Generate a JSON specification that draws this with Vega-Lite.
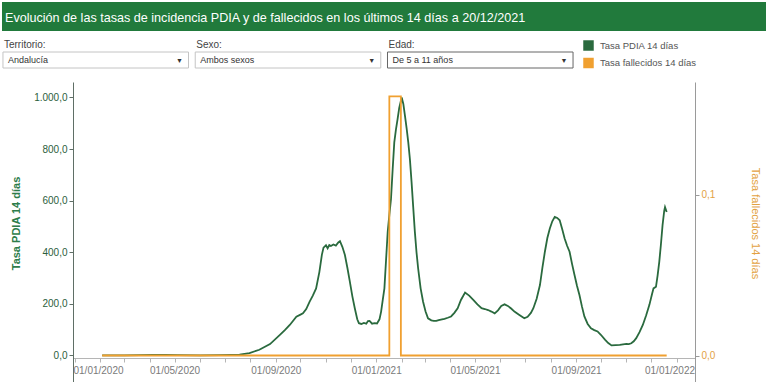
{
  "$schema": "https://vega.github.io/schema/vega-lite/v6.json",
  "padding": {"left": 2, "top": 2, "right": 2, "bottom": 0},
  "background": "white",
  "spacing": 0,
  "config": {
    "view": {"stroke": null},
    "font": "Liberation Sans",
    "locale": {"number": {"decimal": ",", "thousands": ".", "grouping": [3], "currency": ["", " €"]}}
  },
  "datasets": {
    "controles": [
      {"campo": "Territorio:", "valor": "Andalucía"},
      {"campo": "Sexo:", "valor": "Ambos sexos"},
      {"campo": "Edad:", "valor": "De 5 a 11 años"}
    ],
    "pdia": [
      {"fecha": "2020-02-03", "tasa": 0},
      {"fecha": "2020-03-01", "tasa": 0},
      {"fecha": "2020-03-20", "tasa": 1},
      {"fecha": "2020-04-05", "tasa": 2},
      {"fecha": "2020-04-20", "tasa": 2},
      {"fecha": "2020-05-05", "tasa": 1},
      {"fecha": "2020-06-01", "tasa": 0.5},
      {"fecha": "2020-06-25", "tasa": 1},
      {"fecha": "2020-07-10", "tasa": 2},
      {"fecha": "2020-07-19", "tasa": 3},
      {"fecha": "2020-07-31", "tasa": 9},
      {"fecha": "2020-08-12", "tasa": 22},
      {"fecha": "2020-08-25", "tasa": 44},
      {"fecha": "2020-09-06", "tasa": 80},
      {"fecha": "2020-09-12", "tasa": 98},
      {"fecha": "2020-09-18", "tasa": 118},
      {"fecha": "2020-09-26", "tasa": 150},
      {"fecha": "2020-10-01", "tasa": 158},
      {"fecha": "2020-10-04", "tasa": 163},
      {"fecha": "2020-10-08", "tasa": 180},
      {"fecha": "2020-10-12", "tasa": 208},
      {"fecha": "2020-10-16", "tasa": 232},
      {"fecha": "2020-10-20", "tasa": 260},
      {"fecha": "2020-10-24", "tasa": 324},
      {"fecha": "2020-10-27", "tasa": 390},
      {"fecha": "2020-10-29", "tasa": 418},
      {"fecha": "2020-11-01", "tasa": 427},
      {"fecha": "2020-11-03", "tasa": 415},
      {"fecha": "2020-11-05", "tasa": 428},
      {"fecha": "2020-11-07", "tasa": 424},
      {"fecha": "2020-11-10", "tasa": 430},
      {"fecha": "2020-11-13", "tasa": 426},
      {"fecha": "2020-11-16", "tasa": 438},
      {"fecha": "2020-11-18", "tasa": 443},
      {"fecha": "2020-11-21", "tasa": 420},
      {"fecha": "2020-11-24", "tasa": 389},
      {"fecha": "2020-11-27", "tasa": 340},
      {"fecha": "2020-11-30", "tasa": 286},
      {"fecha": "2020-12-03", "tasa": 230},
      {"fecha": "2020-12-06", "tasa": 183},
      {"fecha": "2020-12-09", "tasa": 140},
      {"fecha": "2020-12-11", "tasa": 125},
      {"fecha": "2020-12-14", "tasa": 122},
      {"fecha": "2020-12-17", "tasa": 126},
      {"fecha": "2020-12-20", "tasa": 123},
      {"fecha": "2020-12-22", "tasa": 133},
      {"fecha": "2020-12-24", "tasa": 134},
      {"fecha": "2020-12-27", "tasa": 123},
      {"fecha": "2020-12-30", "tasa": 125},
      {"fecha": "2021-01-02", "tasa": 124},
      {"fecha": "2021-01-05", "tasa": 140},
      {"fecha": "2021-01-07", "tasa": 170},
      {"fecha": "2021-01-09", "tasa": 215},
      {"fecha": "2021-01-11", "tasa": 260},
      {"fecha": "2021-01-13", "tasa": 370},
      {"fecha": "2021-01-15", "tasa": 479},
      {"fecha": "2021-01-17", "tasa": 545},
      {"fecha": "2021-01-19", "tasa": 607},
      {"fecha": "2021-01-21", "tasa": 720},
      {"fecha": "2021-01-23", "tasa": 826},
      {"fecha": "2021-01-25", "tasa": 875},
      {"fecha": "2021-01-27", "tasa": 916},
      {"fecha": "2021-01-29", "tasa": 960},
      {"fecha": "2021-02-01", "tasa": 1000},
      {"fecha": "2021-02-03", "tasa": 975},
      {"fecha": "2021-02-05", "tasa": 929},
      {"fecha": "2021-02-07", "tasa": 880},
      {"fecha": "2021-02-09", "tasa": 826},
      {"fecha": "2021-02-11", "tasa": 760},
      {"fecha": "2021-02-13", "tasa": 672},
      {"fecha": "2021-02-15", "tasa": 575},
      {"fecha": "2021-02-17", "tasa": 479},
      {"fecha": "2021-02-19", "tasa": 400},
      {"fecha": "2021-02-21", "tasa": 337},
      {"fecha": "2021-02-24", "tasa": 260},
      {"fecha": "2021-02-27", "tasa": 208},
      {"fecha": "2021-03-02", "tasa": 170},
      {"fecha": "2021-03-05", "tasa": 144},
      {"fecha": "2021-03-09", "tasa": 136},
      {"fecha": "2021-03-12", "tasa": 134},
      {"fecha": "2021-03-15", "tasa": 134},
      {"fecha": "2021-03-18", "tasa": 137},
      {"fecha": "2021-03-22", "tasa": 140},
      {"fecha": "2021-03-25", "tasa": 142},
      {"fecha": "2021-03-29", "tasa": 146},
      {"fecha": "2021-04-02", "tasa": 151},
      {"fecha": "2021-04-06", "tasa": 165},
      {"fecha": "2021-04-10", "tasa": 183},
      {"fecha": "2021-04-14", "tasa": 215},
      {"fecha": "2021-04-19", "tasa": 244},
      {"fecha": "2021-04-24", "tasa": 232},
      {"fecha": "2021-04-29", "tasa": 215},
      {"fecha": "2021-05-04", "tasa": 198},
      {"fecha": "2021-05-09", "tasa": 183},
      {"fecha": "2021-05-13", "tasa": 180},
      {"fecha": "2021-05-17", "tasa": 176},
      {"fecha": "2021-05-21", "tasa": 170},
      {"fecha": "2021-05-25", "tasa": 163},
      {"fecha": "2021-05-29", "tasa": 175},
      {"fecha": "2021-06-02", "tasa": 192},
      {"fecha": "2021-06-06", "tasa": 198},
      {"fecha": "2021-06-10", "tasa": 192},
      {"fecha": "2021-06-14", "tasa": 182},
      {"fecha": "2021-06-18", "tasa": 170},
      {"fecha": "2021-06-24", "tasa": 157},
      {"fecha": "2021-06-30", "tasa": 144},
      {"fecha": "2021-07-04", "tasa": 150},
      {"fecha": "2021-07-08", "tasa": 165},
      {"fecha": "2021-07-11", "tasa": 183},
      {"fecha": "2021-07-15", "tasa": 220},
      {"fecha": "2021-07-19", "tasa": 273},
      {"fecha": "2021-07-22", "tasa": 340},
      {"fecha": "2021-07-25", "tasa": 402},
      {"fecha": "2021-07-28", "tasa": 455},
      {"fecha": "2021-07-31", "tasa": 492},
      {"fecha": "2021-08-03", "tasa": 520},
      {"fecha": "2021-08-06", "tasa": 537},
      {"fecha": "2021-08-09", "tasa": 533},
      {"fecha": "2021-08-12", "tasa": 524},
      {"fecha": "2021-08-15", "tasa": 490},
      {"fecha": "2021-08-18", "tasa": 453},
      {"fecha": "2021-08-21", "tasa": 425},
      {"fecha": "2021-08-24", "tasa": 402},
      {"fecha": "2021-08-27", "tasa": 355},
      {"fecha": "2021-08-30", "tasa": 312},
      {"fecha": "2021-09-02", "tasa": 270},
      {"fecha": "2021-09-05", "tasa": 234},
      {"fecha": "2021-09-08", "tasa": 190},
      {"fecha": "2021-09-11", "tasa": 151},
      {"fecha": "2021-09-15", "tasa": 122},
      {"fecha": "2021-09-19", "tasa": 105},
      {"fecha": "2021-09-23", "tasa": 98},
      {"fecha": "2021-09-27", "tasa": 93},
      {"fecha": "2021-10-01", "tasa": 80},
      {"fecha": "2021-10-06", "tasa": 61},
      {"fecha": "2021-10-10", "tasa": 48},
      {"fecha": "2021-10-14", "tasa": 39},
      {"fecha": "2021-10-19", "tasa": 40},
      {"fecha": "2021-10-24", "tasa": 41},
      {"fecha": "2021-10-28", "tasa": 43},
      {"fecha": "2021-11-01", "tasa": 45},
      {"fecha": "2021-11-04", "tasa": 44},
      {"fecha": "2021-11-07", "tasa": 47},
      {"fecha": "2021-11-10", "tasa": 55},
      {"fecha": "2021-11-13", "tasa": 67},
      {"fecha": "2021-11-17", "tasa": 90},
      {"fecha": "2021-11-21", "tasa": 118},
      {"fecha": "2021-11-25", "tasa": 155},
      {"fecha": "2021-11-29", "tasa": 196},
      {"fecha": "2021-12-02", "tasa": 235},
      {"fecha": "2021-12-04", "tasa": 260},
      {"fecha": "2021-12-07", "tasa": 266},
      {"fecha": "2021-12-09", "tasa": 310},
      {"fecha": "2021-12-11", "tasa": 363},
      {"fecha": "2021-12-13", "tasa": 430},
      {"fecha": "2021-12-15", "tasa": 505},
      {"fecha": "2021-12-17", "tasa": 560},
      {"fecha": "2021-12-18", "tasa": 575},
      {"fecha": "2021-12-20", "tasa": 556}
    ],
    "fallecidos": [
      {"fecha": "2020-02-03", "tasa": 0},
      {"fecha": "2021-01-17", "tasa": 0.161},
      {"fecha": "2021-01-31", "tasa": 0},
      {"fecha": "2021-12-20", "tasa": 0}
    ]
  },
  "vconcat": [
    {
      "width": 764,
      "height": 29,
      "data": {"values": [{"titulo": "Evolución de las tasas de incidencia PDIA y de fallecidos en los últimos 14 días a 20/12/2021"}]},
      "layer": [
        {"mark": {"type": "rect", "color": "#217a3c"}, "encoding": {}},
        {
          "mark": {"type": "text", "align": "left", "baseline": "alphabetic", "dx": 3, "dy": 5, "color": "white", "font": "Liberation Sans", "fontSize": 12.6},
          "encoding": {
            "x": {"datum": 0, "type": "quantitative", "scale": {"domain": [0, 1]}, "axis": null},
            "text": {"field": "titulo"}
          }
        }
      ]
    },
    {
      "width": 764,
      "height": 20,
      "data": {"name": "controles"},
      "mark": {"type": "text", "align": "left", "baseline": "alphabetic", "dx": 1, "dy": 7, "color": "#444", "font": "Liberation Sans", "fontSize": 10},
      "encoding": {
        "x": {"field": "campo", "type": "nominal", "sort": null, "bandPosition": 0, "axis": null, "scale": {"type": "band", "range": [0, 572], "paddingInner": 0.035, "paddingOuter": 0.005}},
        "text": {"field": "campo"}
      }
    },
    {
      "width": 764,
      "height": 16,
      "data": {"name": "controles"},
      "encoding": {
        "x": {"field": "campo", "type": "nominal", "sort": null, "axis": null, "scale": {"type": "band", "range": [0, 572], "paddingInner": 0.035, "paddingOuter": 0.005}}
      },
      "layer": [
        {
          "mark": {"type": "rect", "fill": "white", "strokeWidth": 1},
          "encoding": {
            "stroke": {"condition": {"test": "datum.campo == 'Edad:'", "value": "#666"}, "value": "#c4c4c4"}
          }
        },
        {
          "mark": {"type": "text", "align": "left", "baseline": "middle", "dx": 5, "color": "#333", "font": "Liberation Sans", "fontSize": 9},
          "encoding": {
            "x": {"field": "campo", "type": "nominal", "sort": null, "bandPosition": 0},
            "text": {"field": "valor"}
          }
        },
        {
          "mark": {"type": "text", "align": "center", "baseline": "middle", "dx": -9, "dy": 1, "color": "#333", "fontSize": 7},
          "encoding": {
            "x": {"field": "campo", "type": "nominal", "sort": null, "bandPosition": 1},
            "text": {"value": "▼"}
          }
        }
      ]
    },
    {
      "width": 764,
      "height": 13,
      "data": {"values": []},
      "mark": "point",
      "encoding": {}
    },
    {
      "spacing": 0,
      "hconcat": [
        {
          "width": 8,
          "height": 300,
          "data": {"values": []},
          "mark": "point",
          "encoding": {}
        },
        {
          "width": 622,
          "height": 300,
          "encoding": {
            "x": {
              "field": "fecha",
              "type": "temporal",
              "scale": {
                "type": "utc",
                "domain": [
                  {"year": 2019, "month": 12, "date": 29, "hours": 14, "utc": true},
                  {"year": 2022, "month": 1, "date": 23, "hours": 10, "utc": true}
                ]
              },
              "axis": {
                "title": null,
                "offset": -24,
                "grid": false,
                "tickCount": {"interval": "month", "step": 1},
                "labelExpr": "utcmonth(datum.value) % 4 == 0 ? utcFormat(datum.value, '%d/%m/%Y') : ''",
                "labelAlign": {"condition": [
                  {"test": "utcyear(datum.value) == 2020 && utcmonth(datum.value) == 0", "value": "left"},
                  {"test": "utcyear(datum.value) == 2022", "value": "right"}
                ], "value": "center"},
                "labelOffset": {"condition": [
                  {"test": "utcyear(datum.value) == 2020 && utcmonth(datum.value) == 0", "value": -2},
                  {"test": "utcyear(datum.value) == 2022", "value": 18}
                ], "value": 0},
                "labelOverlap": false,
                "labelFlush": false,
                "labelBound": false,
                "tickSize": 4,
                "domainColor": "#b5b5b5",
                "tickColor": "#b5b5b5",
                "labelColor": "#7a7a7a",
                "labelFont": "Liberation Sans",
                "labelFontSize": 10,
                "labelPadding": 3
              }
            }
          },
          "layer": [
            {
              "data": {"name": "pdia"},
              "mark": {"type": "line", "strokeWidth": 1.8},
              "encoding": {
                "y": {
                  "field": "tasa",
                  "type": "quantitative",
                  "scale": {"domain": [-103, 1060], "nice": false, "zero": false},
                  "axis": {
                    "title": "Tasa PDIA 14 días",
                    "values": [0, 200, 400, 600, 800, 1000],
                    "format": ",.1f",
                    "grid": false,
                    "tickSize": 4,
                    "domainColor": "#5f6f66",
                    "tickColor": "#5f6f66",
                    "labelColor": "#2c5e3c",
                    "labelFont": "Liberation Sans",
                    "labelFontSize": 10,
                    "labelPadding": 2,
                    "titleColor": "#2e7d4a",
                    "titleFont": "Liberation Sans",
                    "titleFontSize": 11,
                    "titleFontWeight": "bold",
                    "titleY": 141,
                    "minExtent": 40,
                    "maxExtent": 40,
                    "titlePadding": 12
                  }
                },
                "color": {
                  "datum": "Tasa PDIA 14 días",
                  "type": "nominal",
                  "scale": {"domain": ["Tasa PDIA 14 días", "Tasa fallecidos 14 días"], "range": ["#2a6a3e", "#f0a030"]},
                  "legend": {
                    "orient": "none",
                    "legendX": 581,
                    "legendY": 38,
                    "title": null,
                    "padding": 0,
                    "symbolType": "square",
                    "symbolSize": 110,
                    "symbolStrokeWidth": 0,
                    "labelFont": "Liberation Sans",
                    "labelFontSize": 9.5,
                    "labelColor": "#555",
                    "labelOffset": 6,
                    "rowPadding": 6.5,
                    "encode": {"symbols": {"update": {"fill": {"scale": "color", "field": "value"}, "stroke": {"value": "transparent"}}}}
                  }
                }
              }
            },
            {
              "data": {"name": "fallecidos"},
              "mark": {"type": "line", "strokeWidth": 1.8, "interpolate": "step-after"},
              "encoding": {
                "y": {
                  "field": "tasa",
                  "type": "quantitative",
                  "scale": {"domain": [-0.01646, 0.1699], "nice": false, "zero": false},
                  "axis": {
                    "orient": "right",
                    "title": "Tasa fallecidos 14 días",
                    "values": [0, 0.1],
                    "format": ".1f",
                    "grid": false,
                    "tickSize": 4,
                    "domainColor": "#9a9a9a",
                    "tickColor": "#9a9a9a",
                    "labelColor": "#e3a243",
                    "labelFont": "Liberation Sans",
                    "labelFontSize": 10,
                    "labelPadding": 2,
                    "titleColor": "#e3a243",
                    "titleFont": "Liberation Sans",
                    "titleFontSize": 11,
                    "titleFontWeight": "normal",
                    "titleY": 141,
                    "minExtent": 38,
                    "maxExtent": 38,
                    "titlePadding": 16
                  }
                },
                "color": {"datum": "Tasa fallecidos 14 días", "type": "nominal"}
              }
            }
          ],
          "resolve": {"scale": {"y": "independent"}, "axis": {"y": "independent"}}
        }
      ]
    }
  ]
}
